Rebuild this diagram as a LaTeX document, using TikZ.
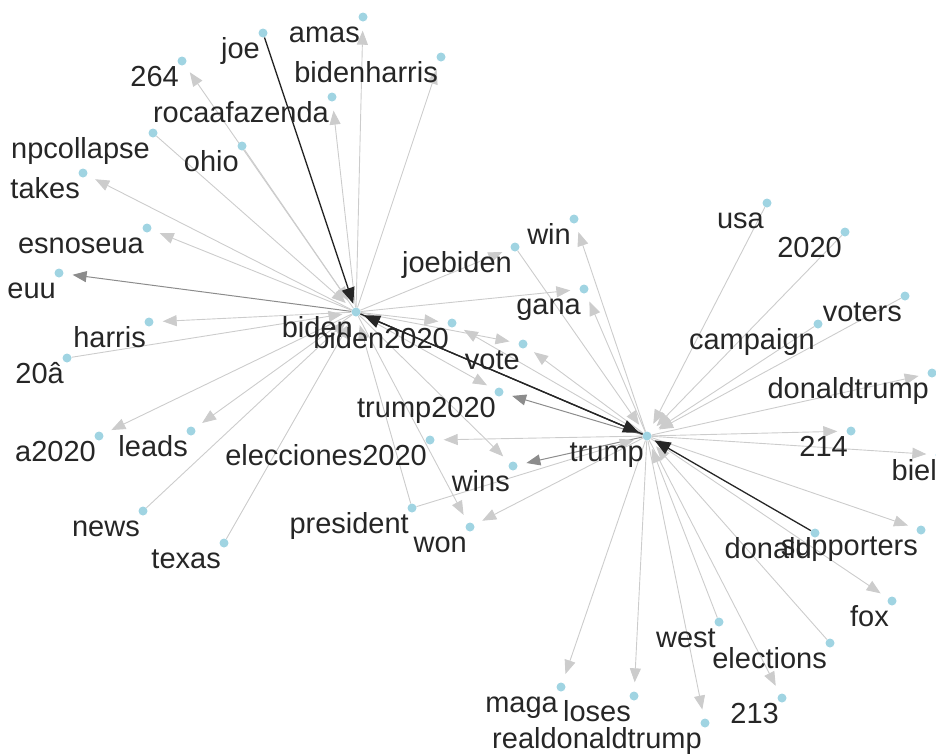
\documentclass[tikz,border=0pt]{standalone}
\usepackage{fontspec}
\setmainfont{Liberation Sans}
\usetikzlibrary{arrows.meta,backgrounds}
\definecolor{dotblue}{RGB}{160,212,226}
\definecolor{wordgray}{RGB}{38,38,38}

\tikzset{
  word/.style={shape=circle, fill=dotblue, inner sep=0pt, minimum size=9pt,
    label={[lbl]270:#1}},
  lbl/.style={anchor=base east, xshift=-3pt, yshift=-21pt, inner sep=0pt,
    text=wordgray, font=\fontsize{29}{30}\selectfont},
  lite/.style={color=black!20, draw, line width=0.9pt,
    -{Triangle[length=14pt,width=11pt]}, shorten >=9pt},
  mid/.style={color=black!45, draw, line width=1pt,
    -{Triangle[length=14pt,width=11pt]}, shorten >=9pt},
  dark/.style={color=black!85, draw, line width=1.3pt,
    -{Triangle[length=16pt,width=13pt]}, shorten >=4pt}
}

\begin{document}
\begin{tikzpicture}[x=1pt,y=-1pt]
        \useasboundingbox (0,0) rectangle (936,753);

        % left cluster
        \node[word=joe] (joe) at (263,33) {};
        \node[word=amas] (amas) at (363,17) {};
        \node[word=264] (n264) at (182,61) {};
        \node[word=bidenharris] (bidenharris) at (441,57) {};
        \node[word=rocaafazenda] (rocaafazenda) at (332,97) {};
        \node[word=npcollapse] (npcollapse) at (153,133) {};
        \node[word=ohio] (ohio) at (242,146) {};
        \node[word=takes] (takes) at (83,173) {};
        \node[word=esnoseua] (esnoseua) at (147,228) {};
        \node[word=euu] (euu) at (59,273) {};
        \node[word=harris] (harris) at (149,322) {};
        \node[word=20â] (a20) at (67,358) {};
        \node[word=a2020] (a2020) at (99,436) {};
        \node[word=leads] (leads) at (191,431) {};
        \node[word=news] (news) at (143,511) {};
        \node[word=texas] (texas) at (224,543) {};
        \node[word=biden] (biden) at (356,312) {};

        % middle
        \node[word=biden2020] (biden2020) at (452,323) {};
        \node[word=joebiden] (joebiden) at (515,247) {};
        \node[word=win] (win) at (574,219) {};
        \node[word=gana] (gana) at (584,289) {};
        \node[word=vote] (vote) at (523,344) {};
        \node[word=trump2020] (trump2020) at (499,392) {};
        \node[word=elecciones2020] (elecciones) at (430,440) {};
        \node[word=wins] (wins) at (513,466) {};
        \node[word=president] (president) at (412,508) {};
        \node[word=won] (won) at (470,527) {};

        % right cluster
        \node[word=trump] (trump) at (647,436) {};
        \node[word=usa] (usa) at (767,203) {};
        \node[word=2020] (y2020) at (845,232) {};
        \node[word=voters] (voters) at (905,296) {};
        \node[word=campaign] (campaign) at (818,324) {};
        \node[word=donaldtrump] (donaldtrump) at (932,373) {};
        \node[word=214] (n214) at (851,431) {};
        \node[word=biel] (biel) at (940,455) {};
        \node[word=supporters] (supporters) at (921,530) {};
        \node[word=donald] (donald) at (815,533) {};
        \node[word=fox] (fox) at (892,601) {};
        \node[word=west] (west) at (719,622) {};
        \node[word=elections] (elections) at (830,643) {};
        \node[word=213] (n213) at (782,698) {};
        \node[word=realdonaldtrump] (realdonaldtrump) at (705,723) {};
        \node[word=loses] (loses) at (634,696) {};
        \node[word=maga] (maga) at (561,687) {};

        \begin{scope}[on background layer]
        %edges around biden
        \path[lite] (biden) edge (amas);
        \path[lite] (biden) edge (n264);
        \path[lite] (biden) edge (bidenharris);
        \path[lite] (biden) edge (rocaafazenda);
        \path[lite] (ohio) edge (biden);
        \path[lite] (npcollapse) edge (biden);
        \path[lite] (biden) edge (takes);
        \path[lite] (biden) edge (esnoseua);
        \path[mid] (biden) edge (euu);
        \path[lite] (biden) edge (harris);
        \path[lite] (a20) edge (biden);
        \path[lite] (biden) edge (a2020);
        \path[lite] (biden) edge (leads);
        \path[lite] (news) edge (biden);
        \path[lite] (texas) edge (biden);
        \path[lite] (president) edge (biden);
        \path[lite] (biden) edge (won);
        \path[lite] (biden) edge (wins);
        \path[lite] (biden) edge (trump2020);
        \path[lite] (biden) edge (biden2020);
        \path[lite] (biden) edge (joebiden);
        \path[lite] (biden) edge (gana);
        \path[lite] (biden) edge (vote);

        %edges around trump
        \path[lite] (trump) edge (biden2020);
        \path[lite] (trump) edge (vote);
        \path[lite] (trump) edge (gana);
        \path[lite] (trump) edge (win);
        \path[lite] (joebiden) edge (trump);
        \path[mid] (trump) edge (trump2020);
        \path[lite] (trump) edge (elecciones);
        \path[mid] (trump) edge (wins);
        \path[lite] (trump) edge (won);
        \path[lite] (president) edge (trump);
        \path[lite] (usa) edge (trump);
        \path[lite] (y2020) edge (trump);
        \path[lite] (voters) edge (trump);
        \path[lite] (campaign) edge (trump);
        \path[lite] (trump) edge (donaldtrump);
        \path[lite] (trump) edge (n214);
        \path[lite] (trump) edge (biel);
        \path[lite] (trump) edge (supporters);
        \path[lite] (trump) edge (fox);
        \path[lite] (elections) edge (trump);
        \path[lite] (trump) edge (n213);
        \path[lite] (west) edge (trump);
        \path[lite] (trump) edge (realdonaldtrump);
        \path[lite] (trump) edge (loses);
        \path[lite] (trump) edge (maga);

        %heavy edges
        \path[dark] (joe) edge (biden);
        \path[dark] (biden) edge (trump);
        \path[dark] (trump) edge (biden);
        \path[dark] (donald) edge (trump);
        \end{scope}
\end{tikzpicture}
\end{document}
